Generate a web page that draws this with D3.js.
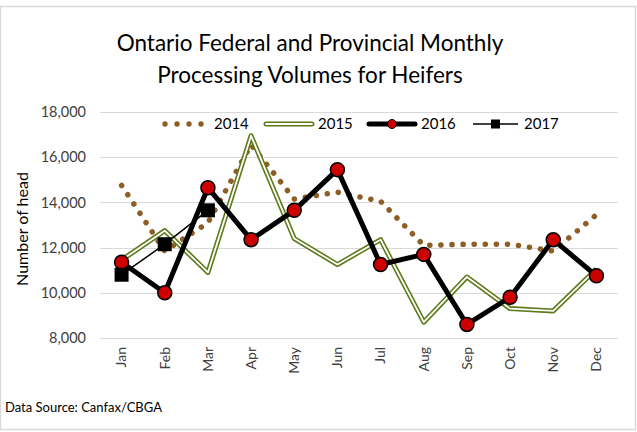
<!DOCTYPE html>
<html>
<head>
<meta charset="utf-8">
<script src="https://cdn.jsdelivr.net/npm/d3@7"></script>
<style>
  html, body { margin: 0; padding: 0; background: #fff; }
  svg { display: block; font-family: Lato, "Open Sans", sans-serif; }
</style>
</head>
<body>
<svg id="chart" width="637" height="432"></svg>
<script>
const months = ["Jan","Feb","Mar","Apr","May","Jun","Jul","Aug","Sep","Oct","Nov","Dec"];
const v2014 = [14750, 11850, 13100, 16550, 14150, 14450, 14050, 12100, 12150, 12150, 11850, 13450];
const v2015 = [11450, 12750, 10900, 16950, 12400, 11250, 12350, 8700, 10700, 9300, 9200, 11050];
const v2016 = [11350, 10000, 14650, 12350, 13650, 15450, 11250, 11700, 8600, 9800, 12350, 10750];
const v2017 = [10800, 12150, 13650];
const yTicks = [8000, 10000, 12000, 14000, 16000, 18000];
const seriesNames = ["2014", "2015", "2016", "2017"];

const svg = d3.select("#chart");
const brown = "#8f5e24", olive = "#5e7a1a", red = "#cc0000";

// outer border
svg.append("rect").attr("x", 0.5).attr("y", 6.5).attr("width", 635).attr("height", 423)
  .attr("fill", "none").attr("stroke", "#d9d9d9").attr("stroke-width", 1.5);

// title
const title = svg.append("text").attr("text-anchor", "middle").attr("fill", "#000")
  .style("font-size", "22.5px");
title.append("tspan").attr("x", 310).attr("y", 51).text("Ontario Federal and Provincial Monthly");
title.append("tspan").attr("x", 310).attr("y", 83).text("Processing Volumes for Heifers");

const x = d3.scaleBand().domain(months).range([100, 618]).padding(0);
const cx = m => x(m) + x.bandwidth() / 2;
const y = d3.scaleLinear().domain([8000, 18000]).range([338, 112]);

// gridlines
svg.append("g").selectAll("line").data(yTicks).join("line")
  .attr("x1", 100).attr("x2", 618)
  .attr("y1", d => Math.round(y(d)) + 0.5).attr("y2", d => Math.round(y(d)) + 0.5)
  .attr("stroke", "#d9d9d9").attr("stroke-width", 1);

// y axis
const yAxis = svg.append("g").attr("transform", "translate(100,0)")
  .call(d3.axisLeft(y).tickValues(yTicks).tickFormat(d3.format(",")).tickSize(0).tickPadding(14));
yAxis.select(".domain").remove();
yAxis.selectAll("text").style("font-size", "14.5px").style("font-family", "Lato, sans-serif").attr("fill", "#404040");

// x axis
const xAxis = svg.append("g").attr("transform", "translate(0,338)")
  .call(d3.axisBottom(x).tickSize(0).tickPadding(0));
xAxis.select(".domain").remove();
xAxis.selectAll("text")
  .style("font-size", "14px").style("font-family", "Lato, sans-serif").attr("fill", "#404040")
  .attr("transform", "rotate(-90)")
  .attr("text-anchor", "end").attr("x", -9).attr("y", 0).attr("dy", "0.35em");

// y axis title
svg.append("text").attr("transform", "translate(28,229) rotate(-90)")
  .attr("text-anchor", "middle").style("font-size", "16px").attr("fill", "#000")
  .text("Number of head");

const line = d3.line().x((d, i) => cx(months[i])).y(d => y(d));

// 2014 dotted
svg.append("path").datum(v2014).attr("d", line).attr("fill", "none")
  .attr("stroke", brown).attr("stroke-width", 5.5).attr("stroke-linecap", "round")
  .attr("stroke-dasharray", "0.1 11");

// 2015 double line
svg.append("path").datum(v2015).attr("d", line).attr("fill", "none")
  .attr("stroke", olive).attr("stroke-width", 5).attr("stroke-linejoin", "round");
svg.append("path").datum(v2015).attr("d", line).attr("fill", "none")
  .attr("stroke", "#fff").attr("stroke-width", 1.8).attr("stroke-linejoin", "round");

// 2016
svg.append("path").datum(v2016).attr("d", line).attr("fill", "none")
  .attr("stroke", "#000").attr("stroke-width", 5).attr("stroke-linejoin", "round");
svg.append("g").selectAll("circle").data(v2016).join("circle")
  .attr("cx", (d, i) => cx(months[i])).attr("cy", d => y(d)).attr("r", 7)
  .attr("fill", red).attr("stroke", "#000").attr("stroke-width", 1.5);

// 2017
svg.append("path").datum(v2017).attr("d", line).attr("fill", "none")
  .attr("stroke", "#000").attr("stroke-width", 1.5);
svg.append("g").selectAll("rect").data(v2017).join("rect")
  .attr("x", (d, i) => cx(months[i]) - 7).attr("y", d => y(d) - 7)
  .attr("width", 14).attr("height", 14).attr("fill", "#000");

// legend
const ly = 124;
const lg = svg.append("g");
[165, 177, 189, 201].forEach(px => lg.append("circle").attr("cx", px).attr("cy", ly).attr("r", 2.7).attr("fill", brown));
lg.append("line").attr("x1", 266).attr("x2", 312).attr("y1", ly).attr("y2", ly)
  .attr("stroke", olive).attr("stroke-width", 5).attr("stroke-linecap", "round");
lg.append("line").attr("x1", 266).attr("x2", 312).attr("y1", ly).attr("y2", ly)
  .attr("stroke", "#fff").attr("stroke-width", 1.8).attr("stroke-linecap", "round");
lg.append("line").attr("x1", 369).attr("x2", 415).attr("y1", ly).attr("y2", ly)
  .attr("stroke", "#000").attr("stroke-width", 5).attr("stroke-linecap", "round");
lg.append("circle").attr("cx", 392).attr("cy", ly).attr("r", 4.5).attr("fill", red).attr("stroke", "#000").attr("stroke-width", 1);
lg.append("line").attr("x1", 473).attr("x2", 518).attr("y1", ly).attr("y2", ly)
  .attr("stroke", "#000").attr("stroke-width", 1.5);
lg.append("rect").attr("x", 491).attr("y", ly - 4.5).attr("width", 9).attr("height", 9).attr("fill", "#000");
const textX = [214, 318, 421, 524];
seriesNames.forEach((s, i) => lg.append("text").attr("x", textX[i]).attr("y", ly + 5)
  .style("font-size", "15px").attr("fill", "#000").text(s));

// source
svg.append("text").attr("x", 5).attr("y", 412).style("font-size", "13px").attr("fill", "#000")
  .text("Data Source: Canfax/CBGA");
</script>
</body>
</html>
